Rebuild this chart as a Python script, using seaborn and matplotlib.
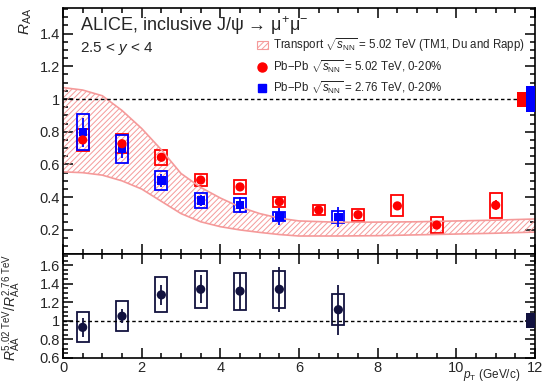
import numpy as np
import pandas as pd
import seaborn as sns
import matplotlib.pyplot as plt
from matplotlib.patches import Patch
from matplotlib.lines import Line2D
from matplotlib.ticker import MultipleLocator, FuncFormatter

# data
pt_502 = [0.5, 1.5, 2.5, 3.5, 4.5, 5.5, 6.5, 7.5, 8.5, 9.5, 11.0]
raa_502 = [0.75, 0.727, 0.644, 0.505, 0.463, 0.373, 0.322, 0.293, 0.347, 0.23, 0.351]
stat_502 = [0.02, 0.02, 0.02, 0.015, 0.02, 0.015, 0.015, 0.015, 0.02, 0.02, 0.03]
syst_502 = [0.065, 0.058, 0.047, 0.037, 0.045, 0.03, 0.032, 0.036, 0.064, 0.048, 0.075]

pt_276 = [0.5, 1.5, 2.5, 3.5, 4.5, 5.5, 7.0]
raa_276 = [0.797, 0.695, 0.503, 0.379, 0.353, 0.282, 0.278]
stat_276 = [0.09, 0.055, 0.04, 0.035, 0.05, 0.05, 0.062]
syst_276 = [0.11, 0.085, 0.06, 0.045, 0.045, 0.03, 0.035]

pt_ratio = [0.5, 1.5, 2.5, 3.5, 4.5, 5.5, 7.0]
ratio = [0.93, 1.05, 1.28, 1.34, 1.32, 1.34, 1.12]
stat_ratio = [0.1, 0.075, 0.11, 0.15, 0.2, 0.24, 0.27]
syst_ratio = [0.16, 0.16, 0.19, 0.2, 0.2, 0.2, 0.17]

pt_model = [0, 0.5, 1.0, 1.5, 2.0, 2.5, 3.0, 3.5, 4.0, 4.5, 5.0, 5.5, 6, 7, 8, 9, 10, 11, 12]
model_hi = [1.07, 1.055, 1.02, 0.93, 0.82, 0.69, 0.545, 0.46, 0.395, 0.34, 0.30, 0.272, 0.255,
            0.247, 0.248, 0.25, 0.255, 0.26, 0.267]
model_lo = [0.555, 0.55, 0.535, 0.50, 0.45, 0.375, 0.30, 0.25, 0.22, 0.20, 0.185, 0.172, 0.163,
            0.163, 0.165, 0.17, 0.175, 0.18, 0.187]

glob_502 = 0.046
glob_276 = 0.08
glob_ratio = 0.08

RED = '#ff0000'
BLUE = '#0000ff'
NAVY = '#12123f'
BAND = '#f59a9a'

sns.set_theme(style='ticks')
plt.rcParams['font.family'] = ['Liberation Sans', 'DejaVu Sans']
plt.rcParams['mathtext.fontset'] = 'custom'
plt.rcParams['mathtext.rm'] = 'Liberation Sans'
plt.rcParams['mathtext.it'] = 'Liberation Sans:italic'
plt.rcParams['mathtext.bf'] = 'Liberation Sans:bold'
plt.rcParams['hatch.linewidth'] = 0.7

df502 = pd.DataFrame({'pt': pt_502, 'raa': raa_502})
df276 = pd.DataFrame({'pt': pt_276, 'raa': raa_276})
dfr = pd.DataFrame({'pt': pt_ratio, 'r': ratio})

fig = plt.figure(figsize=(5.45, 3.83), dpi=100)
ax = fig.add_axes([0.1156, 0.3368, 0.8661, 0.6422])
ax2 = fig.add_axes([0.1156, 0.0653, 0.8661, 0.2715], sharex=ax)

# transport model band
ax.fill_between(pt_model, model_lo, model_hi, facecolor='none', edgecolor=BAND,
                hatch='//////', linewidth=0)
ax.plot(pt_model, model_hi, color=BAND, lw=1.2)
ax.plot(pt_model, model_lo, color=BAND, lw=1.2)

ax.axhline(1, color='black', ls=(0, (2.5, 2)), lw=1)

# systematic boxes
ax.bar(pt_502, 2 * np.array(syst_502), bottom=np.array(raa_502) - syst_502, width=0.3,
       fill=False, edgecolor=RED, linewidth=1.3)
ax.bar(pt_276, 2 * np.array(syst_276), bottom=np.array(raa_276) - syst_276, width=0.3,
       fill=False, edgecolor=BLUE, linewidth=1.3)
ax.errorbar(pt_502, raa_502, yerr=stat_502, fmt='none', ecolor=RED, elinewidth=1.3)
ax.errorbar(pt_276, raa_276, yerr=stat_276, fmt='none', ecolor=BLUE, elinewidth=1.3)
sns.scatterplot(data=df276, x='pt', y='raa', marker='s', s=36, color=BLUE,
                edgecolor='none', ax=ax, zorder=5)
sns.scatterplot(data=df502, x='pt', y='raa', marker='o', s=44, color=RED,
                edgecolor='none', ax=ax, zorder=6)

# global uncertainties
ax.bar([11.55], [2 * glob_502], bottom=[1 - glob_502], width=0.22, align='edge',
       color=RED, linewidth=0, zorder=4)
ax.bar([11.77], [2 * glob_276], bottom=[1 - glob_276], width=0.23, align='edge',
       color=BLUE, linewidth=0, zorder=4)

ax.set_xlim(0, 12)
ax.set_ylim(0.053, 1.556)
ax.set_xlabel('')
ax.set_ylabel(r'$R_{\rm AA}$', fontsize=11, loc='top')
ax.yaxis.set_label_coords(-0.062, 1.0)
ax.yaxis.set_major_locator(MultipleLocator(0.2))
ax.yaxis.set_minor_locator(MultipleLocator(0.05))
ax.xaxis.set_major_locator(MultipleLocator(2))
ax.xaxis.set_minor_locator(MultipleLocator(0.5))
ax.tick_params(labelbottom=False)

ax.text(0.036, 0.93, 'ALICE, inclusive J/\u03c8 \u2192 $\\mathrm{\\mu^{+}\\mu^{-}}$',
        transform=ax.transAxes, fontsize=13, va='center', ha='left')
ax.text(0.036, 0.835, r'2.5 < $y$ < 4', transform=ax.transAxes, fontsize=11,
        va='center', ha='left')

handles = [Patch(facecolor='none', edgecolor=BAND, hatch='//////', linewidth=0.8),
           Line2D([], [], marker='o', color=RED, ls='none', markersize=6.5),
           Line2D([], [], marker='s', color=BLUE, ls='none', markersize=5.5)]
labels = [r'Transport $\sqrt{s_{\rm NN}}$ = 5.02 TeV (TM1, Du and Rapp)',
          r'Pb$-$Pb $\sqrt{s_{\rm NN}}$ = 5.02 TeV, 0-20%',
          r'Pb$-$Pb $\sqrt{s_{\rm NN}}$ = 2.76 TeV, 0-20%']
ax.legend(handles, labels, loc='upper left', bbox_to_anchor=(0.41, 0.885), frameon=False,
          fontsize=8.3, handlelength=1.0, handletextpad=0.4, labelspacing=0.35,
          borderpad=0, borderaxespad=0)

# ratio panel
ax2.axhline(1, color='black', ls=(0, (2.5, 2)), lw=1)
ax2.bar(pt_ratio, 2 * np.array(syst_ratio), bottom=np.array(ratio) - syst_ratio, width=0.3,
        fill=False, edgecolor=NAVY, linewidth=1.3)
ax2.errorbar(pt_ratio, ratio, yerr=stat_ratio, fmt='none', ecolor=NAVY, elinewidth=1.3)
sns.scatterplot(data=dfr, x='pt', y='r', marker='o', s=44, color=NAVY,
                edgecolor='none', ax=ax2, zorder=5)
ax2.bar([11.77], [2 * glob_ratio], bottom=[1 - glob_ratio], width=0.23, align='edge',
        color=NAVY, linewidth=0, zorder=4)
ax2.set_ylim(0.6, 1.72)
ax2.set_xlim(0, 12)
ax2.set_xlabel('')
ax2.set_ylabel(r'$R_{\rm AA}^{5.02\ {\rm TeV}}/R_{\rm AA}^{2.76\ {\rm TeV}}$', fontsize=10,
               loc='top')
ax2.yaxis.set_label_coords(-0.085, 1.0)
ax2.yaxis.set_major_locator(MultipleLocator(0.2))
ax2.yaxis.set_minor_locator(MultipleLocator(0.05))
ax2.text(0.968, -0.09, r'$p_{\rm T}$ (GeV/c)', transform=ax2.transAxes, fontsize=8.5,
         ha='right', va='top')

fmt = FuncFormatter(lambda v, p: ('%g' % round(v, 2)))
for a in (ax, ax2):
    a.yaxis.set_major_formatter(fmt)
    a.tick_params(which='both', direction='in', top=True, right=True, labelsize=10.5,
                  width=1.1, color='black', pad=2)
    a.tick_params(which='major', length=7)
    a.tick_params(which='minor', length=3.5)
    for s in a.spines.values():
        s.set_linewidth(1.2)
        s.set_color('black')
ax2.xaxis.set_major_formatter(fmt)

fig.savefig('out.png', dpi=100)
